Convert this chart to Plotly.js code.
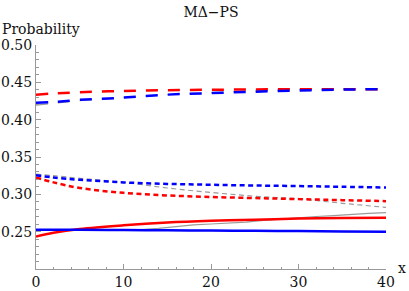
<!DOCTYPE html>
<html>
<head>
<meta charset="utf-8">
<script src="https://cdn.plot.ly/plotly-3.0.1.min.js"></script>
<style>html,body{margin:0;padding:0;background:#fff;}#chart{width:409px;height:291px;}</style>
</head>
<body>
<div id="chart"></div>
<script>
// shared x grid for smooth curves
const xGrid = [0, 2, 5, 10, 15, 20, 25, 30, 35, 40];

// upper dashed curves
const redDashUpper  = [0.4335, 0.4350, 0.4367, 0.4385, 0.4395, 0.4400, 0.4405, 0.4407, 0.4408, 0.4408];
const blueDashUpper = [0.4225, 0.4237, 0.4265, 0.4295, 0.4335, 0.4356, 0.4375, 0.4390, 0.4403, 0.4410];
const grayDashUpper = [0.4195, 0.4220, 0.4255, 0.4295, 0.4335, 0.4362, 0.4385, 0.4405, 0.4412, 0.4415];

// lower dashed curves
const redDashLower  = [0.3225, 0.3160, 0.3085, 0.3020, 0.2985, 0.2965, 0.2950, 0.2936, 0.2922, 0.2909];
const blueDashLower = [0.3255, 0.3225, 0.3195, 0.3160, 0.3140, 0.3128, 0.3118, 0.3111, 0.3101, 0.3092];
const grayDashLower = [0.3270, 0.3250, 0.3215, 0.3160, 0.3085, 0.3025, 0.2975, 0.2940, 0.2880, 0.2825];

// solid curves
const redSolid  = [0.2435, 0.2485, 0.2535, 0.2585, 0.2622, 0.2645, 0.2660, 0.2676, 0.2684, 0.2688];
const blueSolid = [0.2525, 0.2525, 0.2524, 0.2522, 0.2518, 0.2515, 0.2512, 0.2508, 0.2503, 0.2498];

// gray solid (rougher line)
const xGraySolid = [0, 4, 8, 12, 14, 16, 18, 20, 22, 24, 26, 28, 30, 32, 34, 36, 38, 40];
const graySolid  = [0.2527, 0.2526, 0.2525, 0.2527, 0.2545, 0.2572, 0.2592, 0.2603, 0.2615, 0.2628, 0.2650, 0.2668, 0.2690, 0.2703, 0.2715, 0.2733, 0.2745, 0.2755];

// ticks
const xTickVals = [0, 10, 20, 30, 40];
const xTickText = ['0', '10', '20', '30', '40'];
const yTickVals = [0.25, 0.30, 0.35, 0.40, 0.45, 0.50];
const yTickText = ['0.25', '0.30', '0.35', '0.40', '0.45', '0.50'];

const RED = '#ff0000', BLUE = '#0000ff', GRAY = '#9a9a9a';
const longDash = '12px,10px';
const shortDash = '5px,3.5px';

function tr(x, y, color, width, dash, shape) {
  return {x: x, y: y, type: 'scatter', mode: 'lines',
    line: {color: color, width: width, dash: dash, shape: shape || 'spline'},
    hoverinfo: 'skip', showlegend: false};
}

const data = [
  tr(xGrid, grayDashUpper, GRAY, 1.2, longDash),
  tr(xGrid, grayDashLower, GRAY, 1.2, shortDash),
  tr(xGraySolid, graySolid, GRAY, 1.2, 'solid', 'linear'),
  tr(xGrid, redDashUpper, RED, 2.5, longDash),
  tr(xGrid, redDashLower, RED, 2.5, shortDash),
  tr(xGrid, redSolid, RED, 2.5, 'solid'),
  tr(xGrid, blueDashUpper, BLUE, 2.5, longDash),
  tr(xGrid, blueDashLower, BLUE, 2.5, shortDash),
  tr(xGrid, blueSolid, BLUE, 2.5, 'solid')
];

const FONT = {family: 'DejaVu Serif', size: 14, color: '#111'};
const AXC = '#999999';

const layout = {
  width: 409, height: 291,
  margin: {l: 36, r: 23, t: 44.5, b: 21.7, pad: 0},
  paper_bgcolor: '#fff', plot_bgcolor: '#fff',
  font: FONT,
  showlegend: false,
  title: {text: 'MΔ−PS', font: FONT, x: 0.5, xref: 'paper', y: 0.96, yref: 'container', yanchor: 'middle'},
  xaxis: {
    range: [0, 40], showgrid: false, zeroline: false, automargin: false,
    showline: true, linecolor: AXC, linewidth: 1,
    ticks: 'inside', ticklen: 5, tickcolor: AXC, tickwidth: 1,
    tickvals: xTickVals, ticktext: xTickText, tickfont: FONT,
    minor: {dtick: 2, ticks: 'inside', ticklen: 2.5, tickcolor: AXC, tickwidth: 1, showgrid: false}
  },
  yaxis: {
    range: [0.2, 0.5], showgrid: false, zeroline: false, automargin: false,
    showline: true, linecolor: AXC, linewidth: 1,
    ticks: 'inside', ticklen: 5, tickcolor: AXC, tickwidth: 1,
    tickvals: yTickVals, ticktext: yTickText, tickfont: FONT,
    minor: {dtick: 0.01, ticks: 'inside', ticklen: 2.5, tickcolor: AXC, tickwidth: 1, showgrid: false}
  },
  annotations: [
    {text: 'Probability', xref: 'paper', yref: 'paper', x: -0.103, y: 1.073,
     xanchor: 'left', yanchor: 'middle', showarrow: false, font: FONT},
    {text: 'x', xref: 'paper', yref: 'paper', x: 1.047, y: 0.005,
     xanchor: 'center', yanchor: 'middle', showarrow: false, font: FONT}
  ]
};

Plotly.newPlot('chart', data, layout, {staticPlot: true, displayModeBar: false});
</script>
</body>
</html>
